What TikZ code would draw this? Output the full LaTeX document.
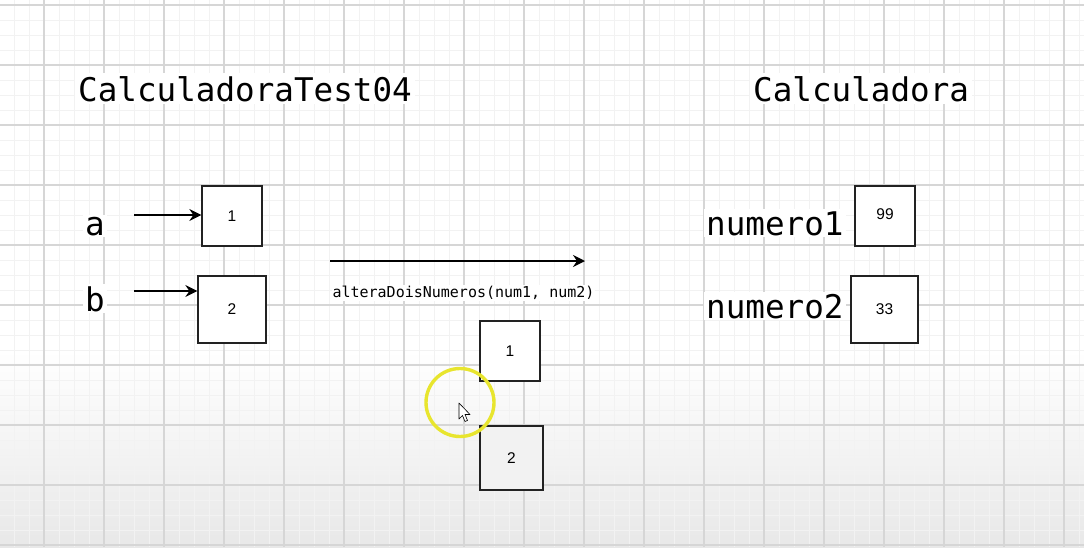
\documentclass[tikz,border=0pt]{standalone}
\usepackage{fontspec}
\setmainfont{Liberation Sans}
\newfontfamily\codefont{DejaVu Sans Mono}
\usetikzlibrary{arrows.meta}
\definecolor{gridmajor}{HTML}{D6D6D6}
\definecolor{gridminor}{HTML}{F2F2F2}
\definecolor{boxline}{HTML}{222222}
\definecolor{hilite}{HTML}{E8E52E}
\tikzset{
  title/.style={font=\codefont\fontsize{32.6}{36}\selectfont, fill=white, inner sep=3pt, anchor=base west},
  varlabel/.style={font=\codefont\fontsize{32.6}{36}\selectfont, fill=white, inner sep=2pt, anchor=base west},
  callabel/.style={font=\codefont\fontsize{15}{18}\selectfont, fill=white, inner sep=1pt},
  valbox/.style={draw=boxline, line width=1.3pt, fill=white, font=\fontsize{15.5}{18}\selectfont, inner sep=0pt},
  arr/.style={line width=1.4pt, -{Stealth[length=12pt,width=12pt,inset=4pt]}},
}
\begin{document}
\begin{tikzpicture}[x=1pt,y=-1pt]
\useasboundingbox (0,0) rectangle (1084,547);
% background
\fill[white] (0,0) rectangle (1084,547);
\shade[top color=white, bottom color=black!9] (0,350) rectangle (1084,547);
% grid
\foreach \x in {-1,14,...,1084} \draw[gridminor, line width=0.8pt] (\x,0) -- (\x,547);
\foreach \y in {5,20,...,547} \draw[gridminor, line width=0.8pt] (0,\y) -- (1084,\y);
\foreach \x in {44,104,...,1084} \draw[gridmajor, line width=1.2pt] (\x,0) -- (\x,547);
\foreach \y in {5,65,...,547} \draw[gridmajor, line width=1.2pt] (0,\y) -- (1084,\y);
% titles
\node[title] (t1) at (75,101) {CalculadoraTest04};
\node[title] (t2) at (750,101) {Calculadora};
% left variables
\node[varlabel] (la) at (83,235) {a};
\node[varlabel] (lb) at (83,311) {b};
\node[valbox, minimum width=60pt, minimum height=60pt] (va) at (232,216) {1};
\node[valbox, minimum width=68pt, minimum height=67pt] (vb) at (232,309.5) {2};
\coordinate (sa) at (134,215);
\coordinate (sb) at (134,291);
\draw[arr] (sa) -- (sa -| va.west);
\draw[arr] (sb) -- (sb -| vb.west);
% call arrow
\coordinate (c1) at (330,261);
\coordinate (c2) at (585,261);
\draw[arr] (c1) -- (c2);
\node[callabel] (call) at (463.5,293) {alteraDoisNumeros(num1, num2)};
% parameter boxes
\node[valbox, minimum width=60pt, minimum height=60pt] (p1) at (510,351) {1};
\node[valbox, fill=black!5, minimum width=63pt, minimum height=64pt] (p2) at (511.5,458) {2};
% right variables
\node[varlabel] (n1) at (704,235) {numero1};
\node[varlabel] (n2) at (704,318) {numero2};
\node[valbox, minimum width=60pt, minimum height=60pt] (v99) at (885,216) {\raisebox{3pt}{99}};
\node[valbox, minimum width=67pt, minimum height=67pt] (v33) at (884.5,309.5) {33};
% cursor highlight
\draw[hilite, line width=3.4pt] (460,402.5) circle (34);
\draw[black, fill=white, line width=0.6pt, line join=round]
  (459,403) -- (459,419) -- (462.5,415.5) -- (465,421.5) -- (467.5,420.5) -- (465,414.5) -- (470,414.5) -- cycle;
\end{tikzpicture}
\end{document}
